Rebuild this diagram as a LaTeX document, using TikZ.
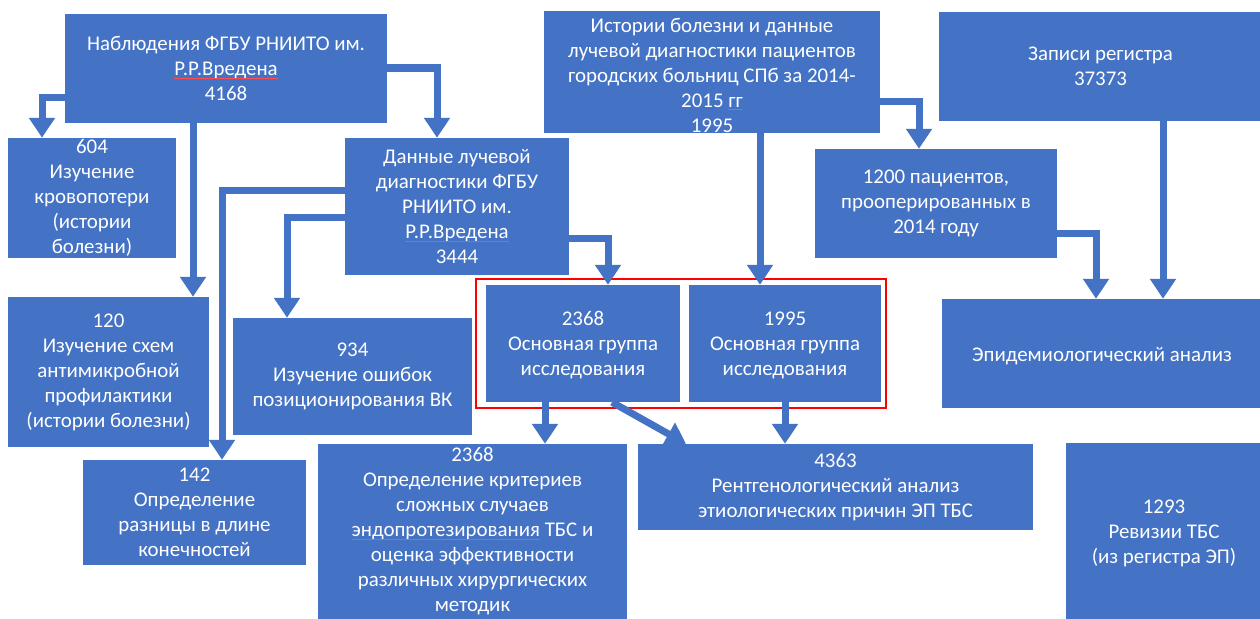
\documentclass[tikz,border=0pt]{standalone}
\usepackage{fontspec}
\setmainfont{Carlito}
\usetikzlibrary{arrows.meta,calc}
\definecolor{boxblue}{HTML}{4472C4}
\definecolor{redline}{HTML}{FF0000}
\newsavebox\splbox
\newcommand\spl[1]{\sbox\splbox{#1}\rlap{\usebox\splbox}{\color{red!70}\rule[-3pt]{\wd\splbox}{0.8pt}}}
\begin{document}
\begin{tikzpicture}[x=1pt,y=-1pt,
  box/.style={fill=boxblue, draw=none, inner sep=0pt},
  txt/.style={text=white, align=center, font=\fontsize{20.9}{25}\selectfont, inner sep=0pt},
  arr/.style={draw=boxblue, line width=7pt, line join=miter, -{Triangle[width=25pt,length=20pt]}},
  redbox/.style={draw=redline, line width=2.5pt, inner sep=0pt}]
\useasboundingbox (0,0) rectangle (1260,618);
\clip (0,0) rectangle (1260,618);
\fill[white] (0,0) rectangle (1260,618);

% boxes
\node[box, minimum width=322pt, minimum height=109pt] (A) at (226,68.5) {};
\node[box, minimum width=168pt, minimum height=120pt] (B) at (92,198) {};
\node[box, minimum width=224pt, minimum height=137pt] (C) at (457,206.5) {};
\node[box, minimum width=336pt, minimum height=122pt] (D) at (712,72) {};
\node[box, minimum width=242pt, minimum height=109pt] (E) at (936,203.5) {};
\node[box, minimum width=323pt, minimum height=109pt] (F) at (1100.5,66.5) {};
\node[box, minimum width=320pt, minimum height=109pt] (G) at (1102,353.5) {};
\node[box, minimum width=201pt, minimum height=150pt] (H) at (108.5,372) {};
\node[box, minimum width=239pt, minimum height=117pt] (I) at (352.5,376.5) {};
\node[box, minimum width=194pt, minimum height=117pt] (J) at (583,343.5) {};
\node[box, minimum width=192pt, minimum height=117pt] (K) at (785,343.5) {};
\node[box, minimum width=223pt, minimum height=105pt] (L) at (194.5,512.5) {};
\node[box, minimum width=309pt, minimum height=182pt] (M) at (472.5,535) {};
\node[box, minimum width=395pt, minimum height=86pt] (N) at (835.5,487) {};
\node[box, minimum width=196pt, minimum height=180pt] (O) at (1164,533) {};

% texts
\node[txt] (At) at (A) {Наблюдения ФГБУ РНИИТО им.\\\spl{Р.Р.Вредена}\\4168};
\node[txt] (Bt) at (B) {604\\Изучение\\кровопотери\\(истории\\болезни)};
\node[txt] (Ct) at (C) {Данные лучевой\\диагностики ФГБУ\\РНИИТО им.\\\spl{Р.Р.Вредена}\\3444};
\node[txt] (Dt) at ([yshift=-3pt]D.center) {Истории болезни и данные\\лучевой диагностики пациентов\\городских больниц СПб за 2014-\\2015 \spl{гг}\\1995};
\node[txt] (Et) at (E) {1200 пациентов,\\прооперированных в\\2014 году};
\node[txt] (Ft) at (F) {Записи регистра\\37373};
\node[txt] (Gt) at ([yshift=-3pt]G.center) {Эпидемиологический анализ};
\node[txt] (Ht) at (H) {120\\Изучение схем\\антимикробной\\профилактики\\(истории болезни)};
\node[txt] (It) at (I) {934\\Изучение ошибок\\позиционирования ВК};
\node[txt] (Jt) at ([yshift=-2pt]J.center) {2368\\Основная группа\\исследования};
\node[txt] (Kt) at ([yshift=-2pt]K.center) {1995\\Основная группа\\исследования};
\node[txt] (Lt) at (L) {142\\Определение\\разницы в длине\\конечностей};
\node[txt] (Mt) at ([yshift=4pt]M.center) {2368\\Определение критериев\\сложных случаев\\\spl{эндопротезирования} ТБС и\\оценка эффективности\\различных хирургических\\методик};
\node[txt] (Nt) at (N) {4363\\Рентгенологический анализ\\этиологических причин ЭП ТБС};
\node[txt] (Ot) at (O) {1293\\Ревизии ТБС\\(из регистра ЭП)};

% red frame
\node[redbox, minimum width=410pt, minimum height=129pt] (R) at (681,343.5) {};

% bend coordinates
\coordinate (c1) at (42,97);
\coordinate (c2) at (193,0);
\coordinate (c3) at (437,68);
\coordinate (c4) at (222,190);
\coordinate (c5) at (287,217);
\coordinate (c6) at (608,238);
\coordinate (c7) at (760,0);
\coordinate (c8) at (919,101);
\coordinate (c9) at (1096,233);
\coordinate (c10) at (1163,0);
\coordinate (c11) at (545,0);
\coordinate (c12a) at (612,0);
\coordinate (c12b) at (686,0);
\coordinate (c13) at (785,0);

% connectors
\draw[arr] (A.west |- c1) -- (c1) -- (B.north -| c1);
\draw[arr] (A.south -| c2) -- (H.north -| c2);
\draw[arr] (A.east |- c3) -- (c3) -- (C.north -| c3);
\draw[arr] (C.west |- c4) -- (c4) -- (L.north -| c4);
\draw[arr] (C.west |- c5) -- (c5) -- (I.north -| c5);
\draw[arr] (C.east |- c6) -- (c6) -- (J.north -| c6);
\draw[arr] (D.south -| c7) -- (K.north -| c7);
\draw[arr] (D.east |- c8) -- (c8) -- (E.north -| c8);
\draw[arr] (E.east |- c9) -- (c9) -- (G.north -| c9);
\draw[arr] (F.south -| c10) -- (G.north -| c10);
\draw[arr] (J.south -| c11) -- (M.north -| c11);
\draw[arr] (J.south -| c12a) -- (N.north -| c12b);
\draw[arr] (K.south -| c13) -- (N.north -| c13);
\end{tikzpicture}
\end{document}
